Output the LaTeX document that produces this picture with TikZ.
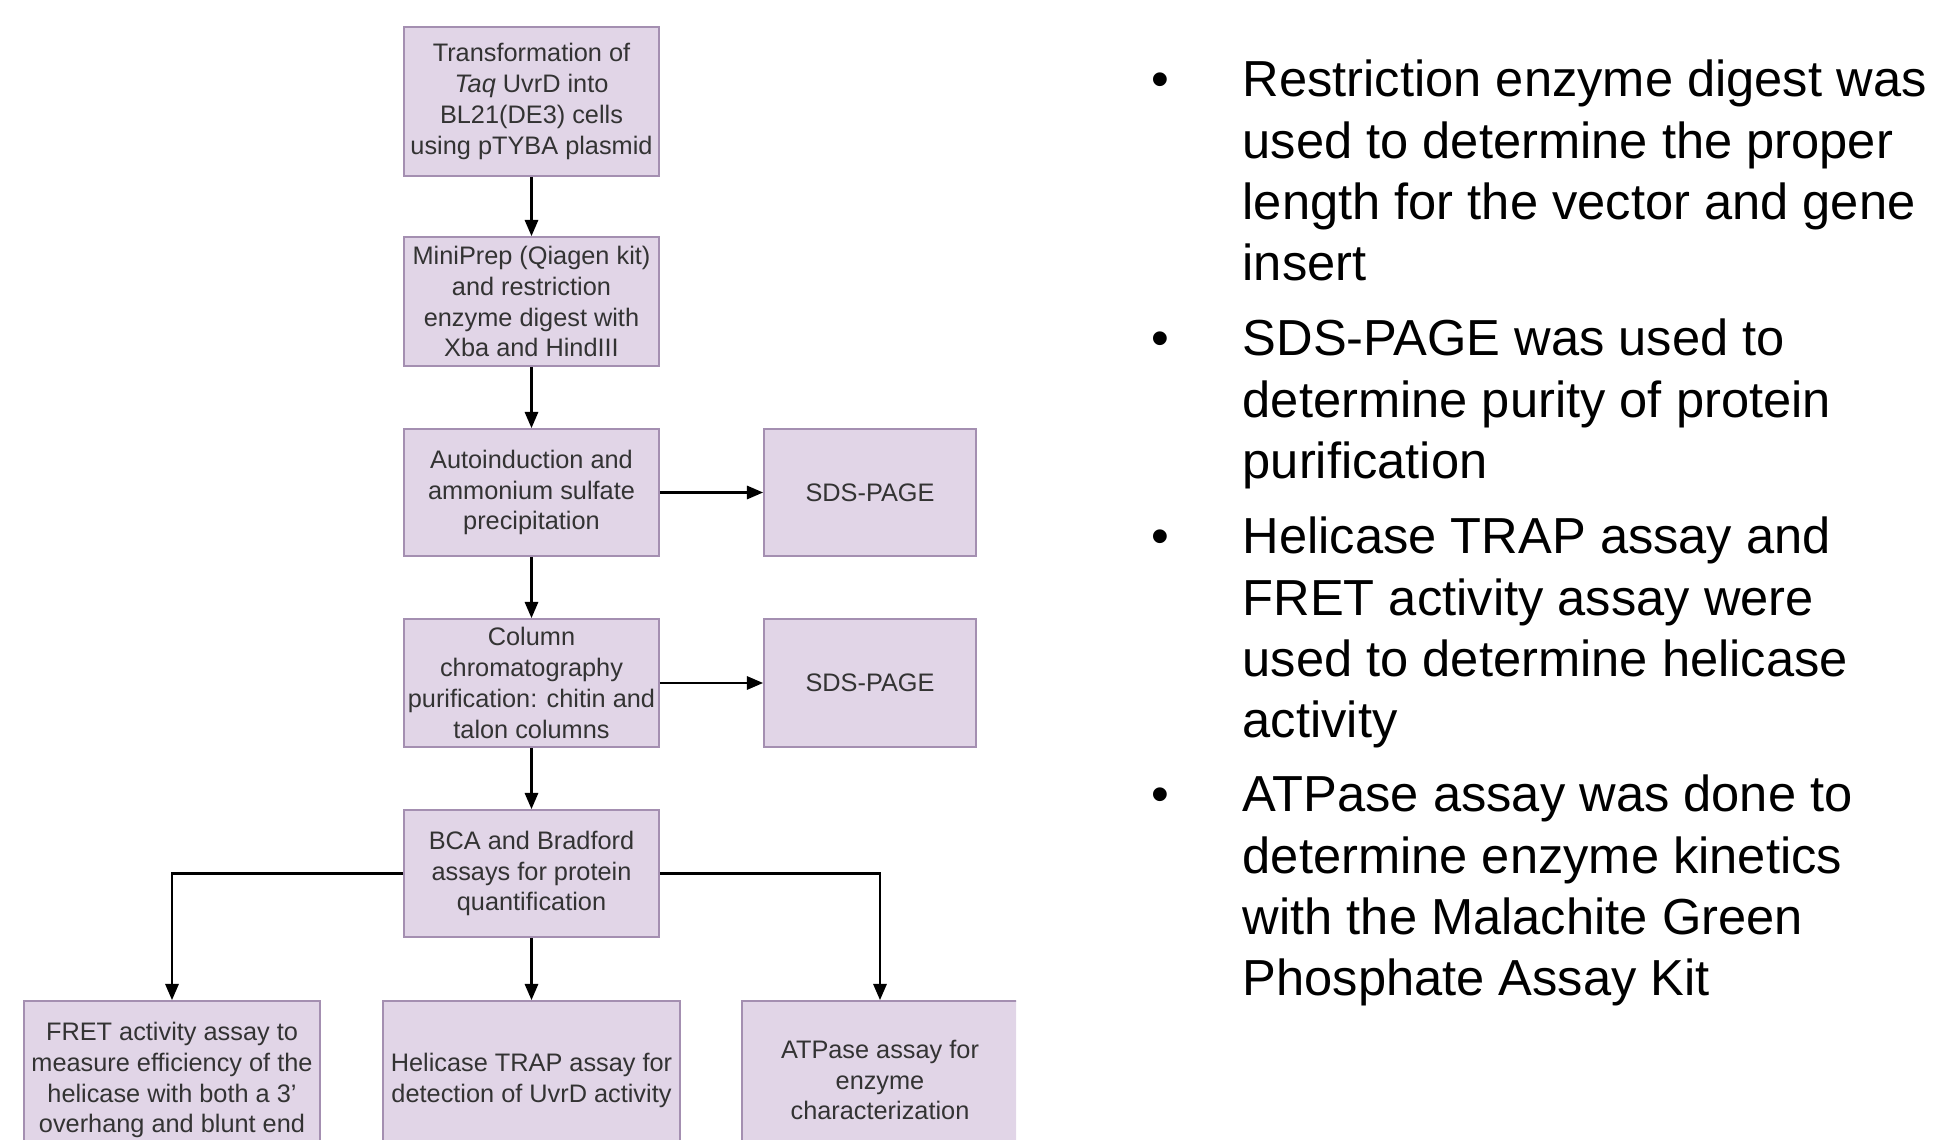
\documentclass[tikz,border=0pt]{standalone}
\usepackage{fontspec}
\setmainfont{Liberation Sans}
\usepackage{tikz}
\usetikzlibrary{arrows.meta}

\definecolor{cajafondo}{HTML}{E1D5E7}
\definecolor{cajaborde}{HTML}{A48FB1}
\definecolor{textocaja}{HTML}{333333}

\tikzset{
    caja/.style={draw=cajaborde, fill=cajafondo, line width=0.5pt, align=center,
        inner sep=0pt, text=textocaja, font=\fontsize{7.2}{8.8}\selectfont},
    flecha/.style={-{Triangle[length=4.6pt,width=3.8pt]}, line width=0.6pt},
    vineta/.style={anchor=base west, inner sep=0pt, font=\fontsize{14.4}{17.4}\selectfont},
}

\begin{document}
\begin{tikzpicture}[x=0.01cm, y=-0.01cm]
        \useasboundingbox (0,0) rectangle (1938,1140);

        % columna central
        \node[caja, minimum width=2.55cm, minimum height=1.49cm] (trans) at (531.5,101.5)
            {Transformation of\\\textit{Taq} UvrD into\\BL21(DE3) cells\\using pTYBA plasmid};
        \node[caja, minimum width=2.55cm, minimum height=1.29cm] (mini) at (531.5,301.5)
            {MiniPrep (Qiagen kit)\\and restriction\\enzyme digest with\\Xba and HindIII};
        \node[caja, minimum width=2.55cm, minimum height=1.27cm] (auto) at (531.5,492.5)
            {Autoinduction and\\ammonium sulfate\\precipitation};
        \node[caja, minimum width=2.55cm, minimum height=1.28cm] (colum) at (531.5,683)
            {Column\\chromatography\\purification: chitin and\\talon columns};
        \node[caja, minimum width=2.55cm, minimum height=1.27cm] (bca) at (531.5,873.5)
            {BCA and Bradford\\assays for protein\\quantification};

        % geles a la derecha
        \node[caja, minimum width=2.12cm, minimum height=1.27cm] (sdsa) at (870,492.5) {SDS-PAGE};
        \node[caja, minimum width=2.12cm, minimum height=1.28cm] (sdsb) at (870,683) {SDS-PAGE};

        % ensayos finales (cortados por el borde)
        \begin{scope}
        \clip (0,0) rectangle (1016,1140);
            \node[caja, minimum width=2.96cm, minimum height=1.58cm] (fret) at (172,1080)
                {FRET activity assay to\\measure efficiency of the\\helicase with both a 3'\\overhang and blunt end};
            \node[caja, minimum width=2.97cm, minimum height=1.58cm] (trap) at (531.5,1080)
                {Helicase TRAP assay for\\detection of UvrD activity};
            \node[caja, minimum width=2.76cm, minimum height=1.58cm] (atp) at (880,1080)
                {ATPase assay for\\enzyme\\characterization};
        \end{scope}

        \draw[flecha] (trans) -- (mini);
        \draw[flecha] (mini) -- (auto);
        \draw[flecha] (auto) -- (colum);
        \draw[flecha] (colum) -- (bca);
        \draw[flecha] (auto) -- (sdsa);
        \draw[flecha] (colum) -- (sdsb);
        \draw[flecha] (bca.west) -| (fret.north);
        \draw[flecha] (bca) -- (trap);
        \draw[flecha] (bca.east) -| (atp.north);

        % lista de la derecha
        \node[vineta] (v1) at (1151,97) {•};
        \node[vineta] (p1) at (1242,97) {\parbox[t]{7cm}{\raggedright
            Restriction enzyme digest was\\used to determine the proper\\length for the vector and gene\\insert}};
        \node[vineta] (v2) at (1151,356) {•};
        \node[vineta] (p2) at (1242,356) {\parbox[t]{7cm}{\raggedright
            SDS-PAGE was used to\\determine purity of protein\\purification}};
        \node[vineta] (v3) at (1151,554) {•};
        \node[vineta] (p3) at (1242,554) {\parbox[t]{7cm}{\raggedright
            Helicase TRAP assay and\\FRET activity assay were\\used to determine helicase\\activity}};
        \node[vineta] (v4) at (1151,812) {•};
        \node[vineta] (p4) at (1242,812) {\parbox[t]{7cm}{\raggedright
            ATPase assay was done to\\determine enzyme kinetics\\with the Malachite Green\\Phosphate Assay Kit}};
    \end{tikzpicture}
\end{document}
